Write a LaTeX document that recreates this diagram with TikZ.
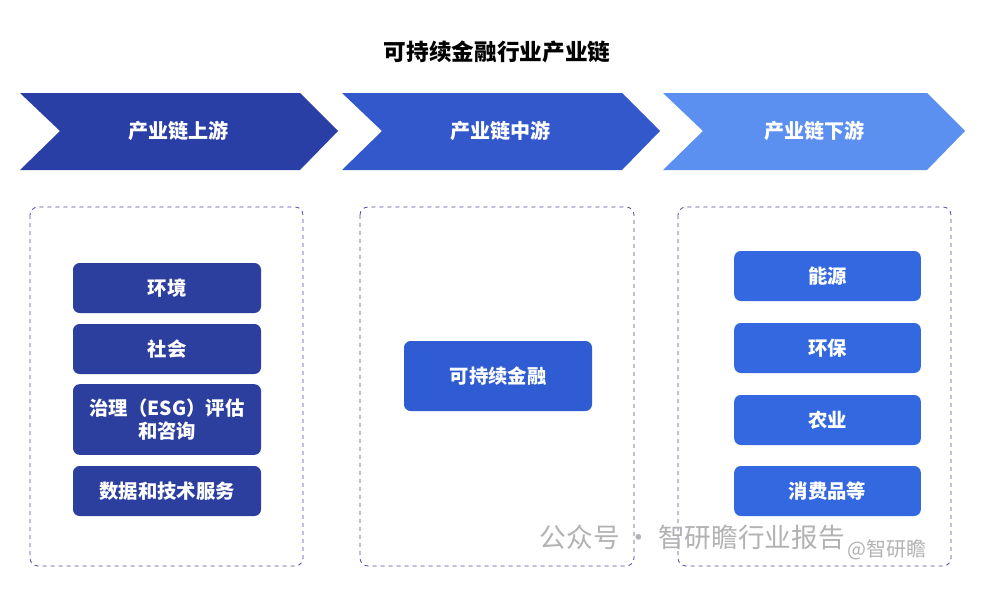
\documentclass[tikz,border=0pt]{standalone}
\usepackage{fontspec}
\setmainfont{Noto Sans CJK SC}
\begin{document}
\begin{tikzpicture}[x=0.75pt,y=-0.75pt,
  dbox/.style={draw=blue!50!black!70, dashed, rounded corners=6pt, line width=0.6pt},
  bbox/.style={rounded corners=5pt, text=white, font=\fontsize{14.5}{17}\selectfont\bfseries, align=center, inner sep=0pt},
  htxt/.style={text=white, font=\fontsize{15}{18}\selectfont\bfseries}]
\definecolor{c1}{HTML}{2A3FA6}
\definecolor{c2}{HTML}{3358CC}
\definecolor{c3}{HTML}{5B8FF0}
\definecolor{bl}{HTML}{2C3F9F}
\definecolor{bm}{HTML}{2F5CD2}
\definecolor{br}{HTML}{3468E0}
\fill[white] (0,0) rectangle (997,589);
\useasboundingbox (0,0) rectangle (997,589);
\node (title) at (497,52) {\fontsize{17}{20}\selectfont\bfseries 可持续金融行业产业链};
\fill[c1] (20,93) -- (300,93) -- (338,131) -- (300,170) -- (20,170) -- (60,131) -- cycle;
\fill[c2] (342,93) -- (622,93) -- (660,131) -- (622,170) -- (342,170) -- (382,131) -- cycle;
\fill[c3] (663,93) -- (927,93) -- (965,131) -- (927,170) -- (663,170) -- (703,131) -- cycle;
\node[htxt] (h1) at (178,131) {产业链上游};
\node[htxt] (h2) at (500,131) {产业链中游};
\node[htxt] (h3) at (814,131) {产业链下游};
\draw[dbox] (30,207) rectangle (303,566);
\draw[dbox] (360,207) rectangle (634,566);
\draw[dbox] (678,207) rectangle (951,566);
\node[bbox, fill=bl, minimum width=141pt, minimum height=37.5pt] (l1) at (167,288) {环境};
\node[bbox, fill=bl, minimum width=141pt, minimum height=37.5pt] (l2) at (167,349) {社会};
\node[bbox, fill=bl, minimum width=141pt, minimum height=53pt] (l3) at (167,419.5) {治理（ESG）评估\\和咨询};
\node[bbox, fill=bl, minimum width=141pt, minimum height=37.5pt] (l4) at (167,491) {数据和技术服务};
\node[bbox, fill=bm, minimum width=141pt, minimum height=52.5pt] (m1) at (498,376) {可持续金融};
\node[bbox, fill=br, minimum width=140pt, minimum height=37.5pt] (r1) at (827.5,276) {能源};
\node[bbox, fill=br, minimum width=140pt, minimum height=37.5pt] (r2) at (827.5,348) {环保};
\node[bbox, fill=br, minimum width=140pt, minimum height=37.5pt] (r3) at (827.5,420) {农业};
\node[bbox, fill=br, minimum width=140pt, minimum height=37.5pt] (r4) at (827.5,491) {消费品等};
\node[text=gray!60, anchor=west, font=\fontsize{20}{22}\selectfont] (wm) at (535,537) {公众号 · 智研瞻行业报告};
\node[text=gray!60, anchor=west, font=\fontsize{15}{17}\selectfont] (wm2) at (843,550) {@智研瞻};
\end{tikzpicture}
\end{document}
